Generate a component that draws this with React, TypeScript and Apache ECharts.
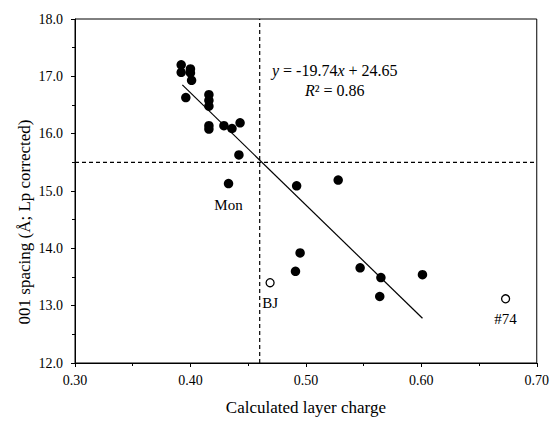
import React, { useEffect, useRef } from "react";
import * as echarts from "echarts";

const filledPoints: [number, number][] = [
  [0.392, 17.2], [0.392, 17.07], [0.4, 17.13], [0.4, 17.06], [0.401, 16.93],
  [0.396, 16.63], [0.416, 16.68], [0.416, 16.58], [0.416, 16.48],
  [0.416, 16.14], [0.416, 16.08], [0.429, 16.14], [0.436, 16.09], [0.443, 16.19],
  [0.442, 15.63], [0.492, 15.09], [0.528, 15.19],
  [0.495, 13.92], [0.491, 13.6], [0.547, 13.66], [0.565, 13.49],
  [0.564, 13.16], [0.601, 13.54],
];
const openPoints: { name: string; value: [number, number] }[] = [
  { name: "BJ", value: [0.469, 13.4] },
  { name: "#74", value: [0.673, 13.12] },
];
const monPoint = { name: "Mon", value: [0.433, 15.13] };
const trendLine: [number, number][] = [[0.393, 16.85], [0.601, 12.78]];
const vDashed: [number, number][] = [[0.46, 12], [0.46, 18]];
const hDashed: [number, number][] = [[0.3, 15.5], [0.7, 15.5]];
const xTicks = { min: 0.3, max: 0.7, interval: 0.1 };
const yTicks = { min: 12, max: 18, interval: 1 };
const xTitle = "Calculated layer charge";
const yTitle = "001 spacing (Å; Lp corrected)";

const FONT = "'Liberation Serif', 'Times New Roman', serif";

export default function App() {
  const ref = useRef<HTMLDivElement>(null);
  useEffect(() => {
    const chart = echarts.init(ref.current!, null, { renderer: "svg" });
    const lbl = { fontFamily: FONT, fontSize: 14, color: "#000" };
    const ptLbl = { fontFamily: FONT, fontSize: 15, color: "#000" };
    chart.setOption({
      animation: false,
      backgroundColor: "#fff",
      textStyle: { fontFamily: FONT, color: "#000" },
      grid: { left: 75, right: 12, top: 19, bottom: 60, show: true, borderColor: "#000", borderWidth: 1, backgroundColor: "transparent" },
      xAxis: {
        type: "value", min: xTicks.min, max: xTicks.max, interval: xTicks.interval,
        name: xTitle, nameLocation: "middle", nameGap: 36,
        nameTextStyle: { fontFamily: FONT, fontSize: 17, color: "#000" },
        axisLine: { lineStyle: { color: "#000", width: 1 } },
        axisTick: { show: true, inside: false, length: 4, lineStyle: { color: "#000" } },
        minorTick: { show: true, splitNumber: 2, length: 3, lineStyle: { color: "#000" } },
        splitLine: { show: false },
        axisLabel: { ...lbl, margin: 10, formatter: (v: number) => v.toFixed(2) },
      },
      yAxis: {
        type: "value", min: yTicks.min, max: yTicks.max, interval: yTicks.interval,
        axisLine: { show: true, lineStyle: { color: "#000", width: 1 } },
        axisTick: { show: true, inside: false, length: 4, lineStyle: { color: "#000" } },
        minorTick: { show: true, splitNumber: 2, length: 3, lineStyle: { color: "#000" } },
        splitLine: { show: false },
        axisLabel: { ...lbl, margin: 12, formatter: (v: number) => v.toFixed(1) },
      },
      series: [
        {
          type: "line", data: vDashed, symbol: "none", silent: true,
          lineStyle: { color: "#000", width: 1.2, type: [4, 3] },
        },
        {
          type: "line", data: hDashed, symbol: "none", silent: true,
          lineStyle: { color: "#000", width: 1.2, type: [4, 3] },
        },
        {
          type: "line", data: trendLine, symbol: "none", silent: true,
          lineStyle: { color: "#000", width: 1.2 },
        },
        {
          type: "scatter", data: filledPoints, symbol: "circle", symbolSize: 9.5,
          itemStyle: { color: "#000", opacity: 1 },
        },
        {
          type: "scatter", data: [monPoint], symbol: "circle", symbolSize: 9.5,
          itemStyle: { color: "#000", opacity: 1 },
          label: { show: true, position: "bottom", distance: 9, formatter: "{b}", ...ptLbl },
        },
        {
          type: "scatter", data: openPoints, symbol: "circle", symbolSize: 8,
          itemStyle: { color: "#fff", borderColor: "#000", borderWidth: 1.3, opacity: 1 },
          label: { show: true, position: "bottom", distance: 8, formatter: "{b}", ...ptLbl },
        },
      ],
      graphic: [
        {
          type: "text", x: 24, y: 222, rotation: Math.PI / 2,
          style: {
            text: yTitle, font: "17px " + FONT, fill: "#000",
            align: "center", verticalAlign: "middle",
          },
        },
        {
          type: "text", x: 272, y: 70,
          style: {
            text: "{i|y} = -19.74{i|x} + 24.65",
            font: "16px " + FONT, fill: "#000",
            align: "left", verticalAlign: "middle",
            rich: { i: { fontStyle: "italic", fontFamily: FONT, fontSize: 16 } },
          },
        },
        {
          type: "text", x: 305, y: 90,
          style: {
            text: "{i|R}² = 0.86",
            font: "16px " + FONT, fill: "#000",
            align: "left", verticalAlign: "middle",
            rich: { i: { fontStyle: "italic", fontFamily: FONT, fontSize: 16 } },
          },
        },
      ],
    });
    return () => chart.dispose();
  }, []);
  return (
    <div
      ref={ref}
      style={{ position: "fixed", left: 0, top: 0, width: 552, height: 423, overflow: "hidden" }}
    />
  );
}
